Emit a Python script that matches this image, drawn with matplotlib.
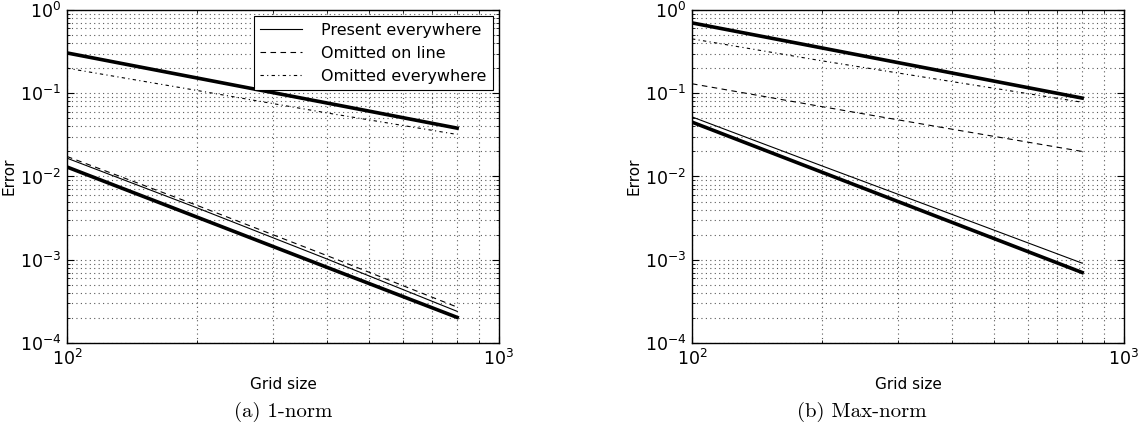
import numpy as np
import matplotlib
matplotlib.use("Agg")
import matplotlib.pyplot as plt
from matplotlib.ticker import NullFormatter, LogLocator

# grid sizes
grid = [100, 200, 400, 800]

# (a) 1-norm
one_present = [0.0166, 0.0042, 0.00102, 0.00024]
one_line = [0.0174, 0.0045, 0.00112, 0.00027]
one_every = [0.20, 0.108, 0.058, 0.032]
one_ref1 = [0.305, 0.1525, 0.0763, 0.0381]
one_ref2 = [0.0130, 0.00325, 0.00081, 0.000203]

# (b) Max-norm
max_present = [0.052, 0.0134, 0.0035, 0.00091]
max_line = [0.130, 0.069, 0.037, 0.020]
max_every = [0.45, 0.245, 0.138, 0.078]
max_ref1 = [0.70, 0.35, 0.175, 0.0875]
max_ref2 = [0.045, 0.01125, 0.00281, 0.000703]

labels = ["Present everywhere", "Omitted on line", "Omitted everywhere"]
captions = ["(a) 1-norm", "(b) Max-norm"]

plt.rcParams['mathtext.default'] = 'regular'
plt.rcParams['font.family'] = 'DejaVu Sans'

fig = plt.figure(figsize=(11.48, 4.4), dpi=100)
W, H = 1148.0, 440.0
ax1 = fig.add_axes([67 / W, 1 - 343 / H, 432 / W, 333 / H])
ax2 = fig.add_axes([692 / W, 1 - 343 / H, 432 / W, 333 / H])

dashdot = (0, (3, 3, 1, 3))
gridstyle = (0, (1, 3))


def draw(ax, present, line, every, ref1, ref2, legend):
    ax.loglog(grid, present, '-', color='k', lw=0.8, label=labels[0])
    ax.loglog(grid, line, color='k', lw=0.8, linestyle=(0, (5, 4)), label=labels[1])
    ax.loglog(grid, every, color='k', lw=0.8, linestyle=dashdot, label=labels[2])
    ax.loglog(grid, ref1, '-', color='k', lw=2.6)
    ax.loglog(grid, ref2, '-', color='k', lw=2.6)
    ax.set_xlim(100, 1000)
    ax.set_ylim(1e-4, 1)
    ax.xaxis.set_minor_locator(LogLocator(subs=np.arange(2, 10)))
    ax.yaxis.set_minor_locator(LogLocator(subs=np.arange(2, 10)))
    ax.xaxis.set_minor_formatter(NullFormatter())
    ax.yaxis.set_minor_formatter(NullFormatter())
    ax.grid(True, which='both', linestyle=gridstyle, color='0.35', lw=0.8)
    ax.tick_params(which='both', direction='in', top=True, right=True,
                   labelsize=12.5, pad=4)
    ax.tick_params(which='major', length=5, width=0.8)
    ax.tick_params(which='minor', length=2.5, width=0.6)
    ax.set_xlabel("Grid size", fontsize=11, labelpad=6)
    ax.set_ylabel("Error", fontsize=11)
    ax.yaxis.set_label_coords(-0.116, 0.5)
    for s in ax.spines.values():
        s.set_linewidth(1.0)
    if legend:
        leg = ax.legend(loc='upper right', fontsize=11.5, fancybox=False,
                        edgecolor='k', framealpha=1, handlelength=2.6,
                        handletextpad=1.2, borderaxespad=0.4,
                        labelspacing=0.5)
        leg.get_frame().set_linewidth(0.8)


draw(ax1, one_present, one_line, one_every, one_ref1, one_ref2, True)
draw(ax2, max_present, max_line, max_every, max_ref1, max_ref2, False)

fig.text(283 / W, 1 - 412 / H, captions[0], ha='center', va='center',
         fontsize=15, family='cmr10')
fig.text(862 / W, 1 - 412 / H, captions[1], ha='center', va='center',
         fontsize=15, family='cmr10')

fig.savefig("out.png", dpi=100)
